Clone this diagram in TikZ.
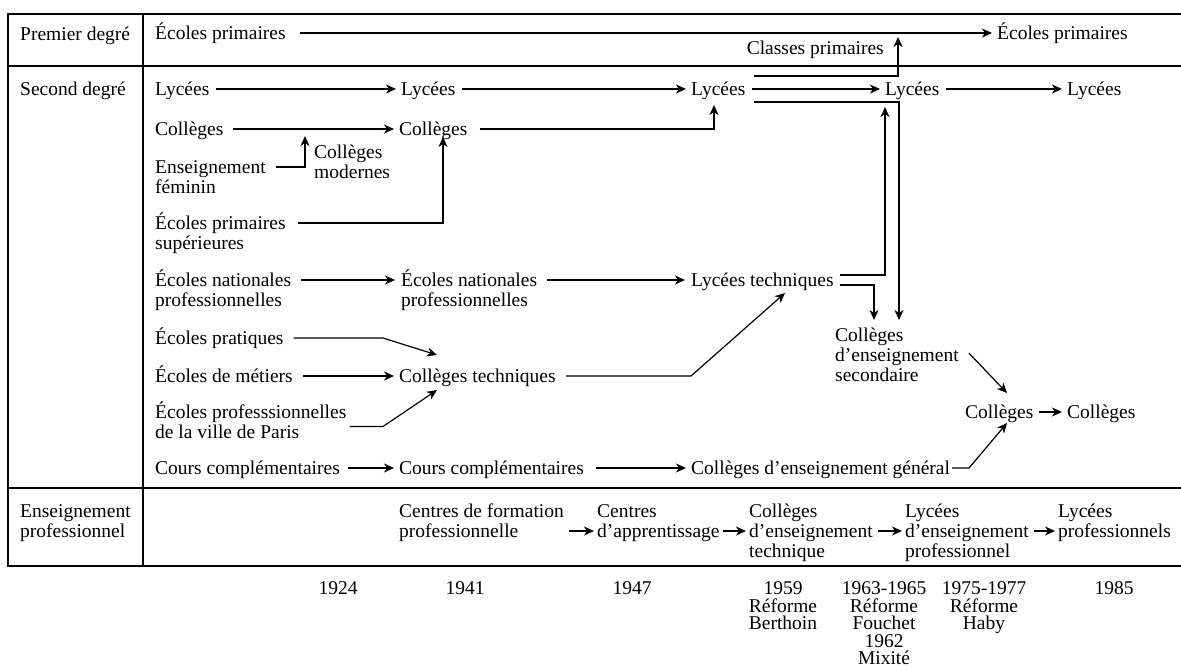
\documentclass[tikz,border=0pt]{standalone}
\usepackage{fontspec}
\setmainfont{Liberation Serif}
\usetikzlibrary{arrows.meta,calc}
\begin{document}
\begin{tikzpicture}[x=1pt,y=-1pt,
  txt/.style={font=\fontsize{19.5}{19.5}\selectfont, inner sep=0pt, anchor=west, text height=13pt, text depth=0pt},
  mtxt/.style={font=\fontsize{19.5}{19.8}\selectfont, inner sep=0pt, anchor=base west, align=left},
  yr/.style={font=\fontsize{19.5}{17.5}\selectfont, inner sep=0pt, anchor=base, align=center},
  frame/.style={line width=1.8pt},
  ln/.style={line width=1.2pt},
  arr/.style={ln, -{Stealth[length=10pt,width=9pt,inset=3pt]}},
  gap/.style={shorten <=6pt, shorten >=5pt},
]
\fill[white] (0,0) rectangle (1181,671);
\useasboundingbox (0,0) rectangle (1181,671);
% table
\draw[frame] (1181,14) -- (8,14) -- (8,566) -- (1181,566);
\draw[frame] (143,14) -- (143,566);
\draw[frame] (8,66) -- (1181,66);
\draw[frame] (8,488) -- (1181,488);
% row heads (multi-line nodes: base = baseline of last line)
\node[txt] (pd) at (20,34) {Premier degré};
\node[txt] (sd) at (20,89) {Second degré};
\node[mtxt] (epro) at (20,537.3) {Enseignement\\professionnel};
% premier degre
\node[txt] (ep1) at (155,33) {Écoles primaires};
\node[txt] (ep2) at (997,33) {Écoles primaires};
\node[txt,anchor=east] (cp) at (884,48) {Classes primaires};
% second degre
\node[txt] (ly1) at (155,89) {Lycées};
\node[txt] (ly2) at (401,89) {Lycées};
\node[txt] (ly3) at (691,89) {Lycées};
\node[txt] (ly4) at (885,89) {Lycées};
\node[txt] (ly5) at (1067,89) {Lycées};
\node[txt] (co1) at (155,129) {Collèges};
\node[txt] (co2) at (399,129) {Collèges};
\node[mtxt] (cm) at (314,178.3) {Collèges\\modernes};
\node[mtxt] (ef) at (155,193.3) {Enseignement\\féminin};
\node[mtxt] (eps) at (155,249.3) {Écoles primaires\\supérieures};
\node[mtxt] (enp1) at (155,306.3) {Écoles nationales\\professionnelles};
\node[mtxt] (enp2) at (401,306.3) {Écoles nationales\\professionnelles};
\node[txt] (lt) at (691,280) {Lycées techniques};
\node[txt] (epr) at (155,338) {Écoles pratiques};
\node[txt] (em) at (155,376) {Écoles de métiers};
\node[txt] (ct) at (399,376) {Collèges techniques};
\node[mtxt] (epp) at (155,438.3) {Écoles professsionnelles\\de la ville de Paris};
\node[mtxt] (ces) at (835,381.1) {Collèges\\d'enseignement\\secondaire};
\node[txt] (col1) at (965,412) {Collèges};
\node[txt] (col2) at (1067,412) {Collèges};
\node[txt] (cc1) at (155,468) {Cours complémentaires};
\node[txt] (cc2) at (399,468) {Cours complémentaires};
\node[txt] (ceg) at (691,468) {Collèges d'enseignement général};
% enseignement professionnel
\node[mtxt] (cfp) at (399,537.3) {Centres de formation\\professionnelle};
\node[mtxt] (ca) at (597,537.3) {Centres\\d'apprentissage};
\node[mtxt] (cet) at (749,557.1) {Collèges\\d'enseignement\\technique};
\node[mtxt] (lep) at (905,557.1) {Lycées\\d'enseignement\\professionnel};
\node[mtxt] (lp) at (1058,537.3) {Lycées\\professionnels};
% years
\node[yr] (y1924) at (338,594.5) {1924};
\node[yr] (y1941) at (465,594.5) {1941};
\node[yr] (y1947) at (632,594.5) {1947};
\node[yr] (y1959) at (783,629.5) {1959\\Réforme\\Berthoin};
\node[yr] (y1963) at (884,664.5) {1963-1965\\Réforme\\Fouchet\\1962\\Mixité};
\node[yr] (y1975) at (984,629.5) {1975-1977\\Réforme\\Haby};
\node[yr] (y1985) at (1114,594.5) {1985};
% bend and tip coordinates
\coordinate (cpTip) at (898,37);
\coordinate (ssTip) at (899,320);
\coordinate (l4Tip) at (885,107);
\coordinate (ltTip) at (874,320);
\coordinate (l3Tip) at (714,105);
\coordinate (cmTip) at (305,136);
\coordinate (c2Tip) at (443,137);
\coordinate (eprBend) at (383,338);
\coordinate (ctTipA) at (437,355);
\coordinate (eppBend) at (383,426.5);
\coordinate (ctTipB) at (437,390);
\coordinate (ctBend) at (691,376);
\coordinate (ltTip2) at (785,293);
\coordinate (cegBend) at (969,468);
\coordinate (colTipB) at (1007,423);
\coordinate (colTipA) at (1007,393);
% connectors
\draw[arr,shorten <=14pt,shorten >=5pt] (ep1.east) -- (ep2.west);
\draw[arr] ($(ly3.east)+(8,-13)$) -| (cpTip);
\draw[arr,gap] (ly1.east) -- (ly2.west);
\draw[arr,gap] (ly2.east) -- (ly3.west);
\draw[arr,gap] (ly3.east) -- (ly4.west);
\draw[arr,gap] (ly4.east) -- (ly5.west);
\draw[arr] ($(ly3.east)+(8,13)$) -| (ssTip);
\draw[arr] ($(lt.east)+(6,-5)$) -| (l4Tip);
\draw[arr] ($(lt.east)+(6,5)$) -| (ltTip);
\draw[arr,shorten <=9pt,shorten >=5pt] (co1.east) -- (co2.west);
\draw[arr] ($(co2.east)+(12,0)$) -| (l3Tip);
\draw[arr] ($(ef.base east)+(10,-26.3)$) -| (cmTip);
\draw[arr] ($(eps.base east)+(12,-26.3)$) -| (c2Tip);
\draw[arr] ($(enp1.base east)+(10,-26.3)$) -- ($(enp2.base west)+(-6,-26.3)$);
\draw[arr] ($(enp2.base east)+(10,-26.3)$) -- ($(lt.west)+(-6,0)$);
\draw[arr] ($(epr.east)+(10,0)$) -- (eprBend) -- (ctTipA);
\draw[arr,shorten <=10pt,shorten >=5pt] (em.east) -- (ct.west);
\draw[arr] ($(epp.base east)+(3,-11.8)$) -- (eppBend) -- (ctTipB);
\draw[arr] ($(ct.east)+(10,0)$) -- (ctBend) -- (ltTip2);
\draw[arr,shorten <=8pt,shorten >=5pt] (cc1.east) -- (cc2.west);
\draw[arr,shorten <=12pt,shorten >=5pt] (cc2.east) -- (ceg.west);
\draw[arr] ($(ceg.east)+(2,0)$) -- (cegBend) -- (colTipB);
\draw[arr] ($(ces.base east)+(10,-28.1)$) -- (colTipA);
\draw[arr,shorten <=5pt,shorten >=5pt] (col1.east) -- (col2.west);
\draw[arr] ($(cfp.base east)+(5,-6.3)$) -- ($(ca.base west)+(-3,-6.3)$);
\draw[arr] ($(ca.base east)+(3,-6.3)$) -- ($(cet.base west)+(-3,-26.1)$);
\draw[arr] ($(cet.base east)+(5,-26.1)$) -- ($(lep.base west)+(-3,-26.1)$);
\draw[arr] ($(lep.base east)+(5,-26.1)$) -- ($(lp.base west)+(-3,-6.3)$);
\end{tikzpicture}
\end{document}
